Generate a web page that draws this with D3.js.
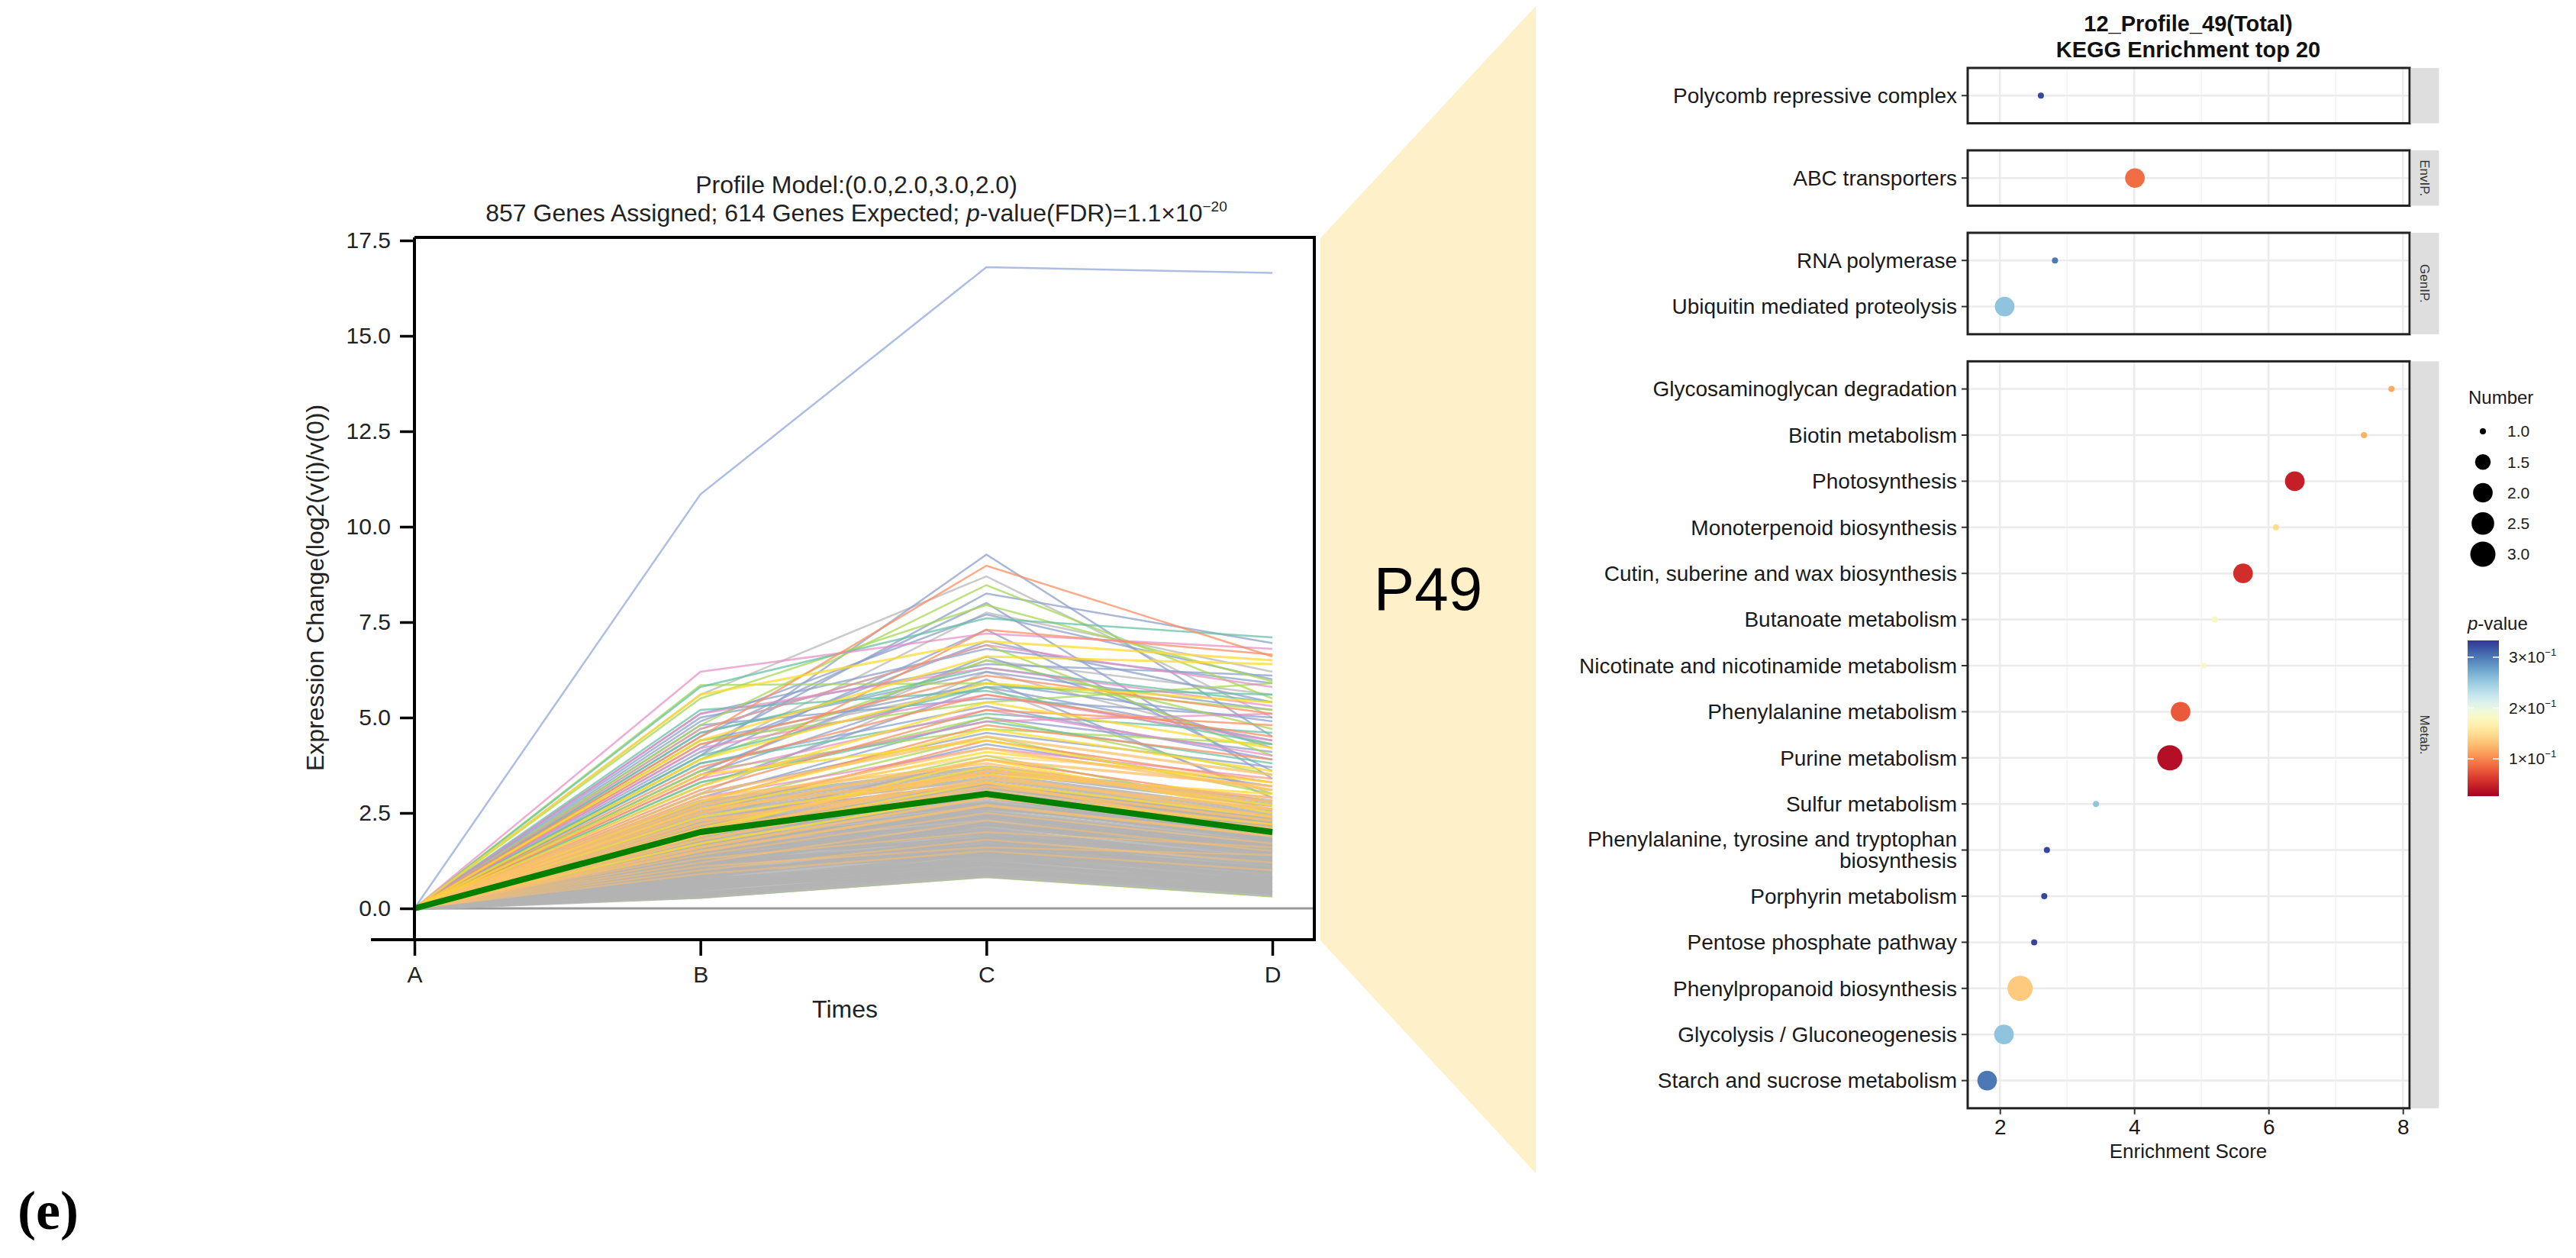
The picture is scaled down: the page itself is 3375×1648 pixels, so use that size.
<!DOCTYPE html>
<html><head><meta charset="utf-8">
<script src="https://cdn.jsdelivr.net/npm/d3@7"></script>
<style>
body{margin:0;background:#fff;}
svg{display:block;}
</style>
</head><body>
<svg id="chart" width="3375" height="1648" style="font-family:'Liberation Sans',Arial,Helvetica,sans-serif"></svg>
<script>
// ================= LEFT: STEM profile data =================
const timePoints = ["A","B","C","D"];
const yTickValues = [0,2.5,5,7.5,10,12.5,15,17.5];
const modelProfile = [0,2,3,2];
const outlierProfile = [0,10.85,16.8,16.65];
// each row = values at B, C, D (A is 0)
const profilesGray = [
 [0.30,0.85,0.35],[0.40,0.95,0.45],[0.45,1.05,0.55],[0.55,1.00,0.50],[0.50,1.15,0.65],
 [0.60,1.20,0.60],[0.65,1.30,0.75],[0.75,1.25,0.70],[0.70,1.40,0.85],[0.80,1.45,0.80],
 [0.85,1.55,0.95],[0.95,1.50,0.90],[0.90,1.65,1.05],[1.00,1.70,1.00],[1.05,1.80,1.15],
 [1.15,1.75,1.10],[1.10,1.90,1.25],[1.20,1.95,1.20],[1.25,2.05,1.35],[1.35,2.00,1.30],
 [1.30,2.15,1.45],[1.40,2.20,1.40],[1.45,2.30,1.55],[1.55,2.25,1.50],[1.50,2.40,1.65],
 [1.60,2.45,1.60],[1.65,2.55,1.75],[1.75,2.50,1.70],[1.70,2.65,1.85],[1.80,2.70,1.80],
 [1.85,2.80,1.95],[1.95,2.75,1.90],[1.90,2.90,2.05],[2.00,2.95,2.00],[2.05,3.05,2.15],
 [2.15,3.00,2.10],[2.10,3.15,2.25],[2.20,3.20,2.20],[2.30,3.30,2.35],[2.40,3.25,2.30],
 [2.50,3.40,2.45],[2.60,3.50,2.55],[2.70,3.60,2.70],[2.80,3.70,2.80],[0.35,0.90,0.40],
 [0.60,1.10,0.40],[0.50,1.35,0.70],[1.00,1.40,0.60],[0.80,1.85,1.30],[1.40,1.80,0.95],
 [0.38,1.00,0.42],[0.68,1.18,0.52],[0.92,1.60,0.78],[1.22,1.62,1.02],[1.48,2.08,1.22],
 [1.72,2.38,1.48],[0.58,1.48,0.98],[1.12,2.22,1.62],[1.58,2.62,2.08],[2.22,2.92,1.78]
];
const profilesBlue = [
 [4.0,9.27,4.5],[4.2,8.25,6.95],[4.9,7.7,6.0],[3.9,7.3,3.6],[5.1,6.8,5.9],[4.6,6.2,5.2],
 [3.6,6.6,4.2],[4.4,5.9,4.9],[3.2,5.8,4.4],[5.0,6.4,6.1],[3.8,5.3,3.9],[4.1,7.0,5.4],
 [2.9,5.0,4.1],[3.5,6.0,2.9],[4.8,5.5,5.0],[3.0,4.6,3.7],[4.5,8.0,3.4],[2.6,4.3,3.2]
];
const profilesOrange = [
 [4.5,8.98,6.6],[3.4,7.3,6.65],[4.3,6.1,5.1],[3.7,5.6,4.5],[2.8,4.8,3.9],[3.1,5.2,4.8],
 [2.5,4.4,3.3],[2.2,3.9,2.8]
];
const profilesGreen = [
 [4.8,8.47,5.5],[5.5,7.95,5.95],[4.7,6.9,4.0],[5.85,5.9,5.2],[3.9,6.5,4.7],[4.4,5.4,5.9],
 [3.3,5.0,3.5],[2.7,4.5,3.0],[2.4,4.0,2.6],[3.6,4.7,4.3],[0.28,0.82,0.31]
];
const profilesTeal = [
 [5.8,7.6,7.1],[4.6,6.3,5.4],[3.8,5.1,4.6],[5.2,5.7,4.3],[3.3,4.9,3.8],[4.0,5.8,5.6]
];
const profilesPink = [
 [6.2,7.2,6.8],[5.1,6.3,5.3],[4.2,5.6,4.4],[3.5,5.2,4.0],[4.7,6.9,5.8],[2.9,4.2,3.4],
 [3.4,4.9,5.1],[2.3,3.6,2.9]
];
const profilesSilver = [
 [5.6,8.7,5.0],[4.0,7.75,6.2],[3.6,6.5,5.6],[4.3,5.8,3.0],[3.0,6.2,4.3]
];
const profilesYellow = [
 [5.6,7.0,6.5],[4.4,6.6,6.4],[3.9,5.9,5.4],[3.2,5.4,4.2],[2.8,4.7,3.6],[3.5,4.4,3.1],
 [2.6,4.1,3.3],[2.1,3.7,2.7],[1.9,3.3,2.4],[2.4,3.5,3.0],[1.7,3.0,2.2],[2.0,3.9,2.5]
];
const profilesAmber = [
 [3.0,4.5,3.5],[2.7,4.2,3.1],[2.5,3.9,3.2],[2.2,3.6,2.9],[2.9,3.8,2.6],[2.0,3.4,2.6],
 [1.8,3.2,2.3],[2.3,3.3,2.0],[1.6,2.9,2.1],[1.5,2.7,1.9],[2.6,3.5,2.4],[1.9,3.6,2.8],
 [1.4,2.5,1.7],[1.2,2.3,1.5],[1.3,2.0,1.6],[1.0,1.8,1.2],[1.1,1.6,1.4],[0.9,1.5,1.0],
 [2.1,3.1,2.2],[2.8,4.0,3.4]
];

// ================= RIGHT: KEGG enrichment data =================
const pathwayNames = [
 "Polycomb repressive complex","ABC transporters","RNA polymerase","Ubiquitin mediated proteolysis",
 "Glycosaminoglycan degradation","Biotin metabolism","Photosynthesis","Monoterpenoid biosynthesis",
 "Cutin, suberine and wax biosynthesis","Butanoate metabolism","Nicotinate and nicotinamide metabolism",
 "Phenylalanine metabolism","Purine metabolism","Sulfur metabolism",
 "Phenylalanine, tyrosine and tryptophan\nbiosynthesis","Porphyrin metabolism","Pentose phosphate pathway",
 "Phenylpropanoid biosynthesis","Glycolysis / Gluconeogenesis","Starch and sucrose metabolism"
];
const pathwayClass = ["CP.","EnvIP.","GenIP.","GenIP.","Metab.","Metab.","Metab.","Metab.","Metab.","Metab.",
 "Metab.","Metab.","Metab.","Metab.","Metab.","Metab.","Metab.","Metab.","Metab.","Metab."];
const classOrder = ["CP.","EnvIP.","GenIP.","Metab."];
const classStripText = ["","EnvIP.","GenIP.","Metab."];
const enrichScore = [2.61,4.01,2.82,2.07,7.83,7.42,6.39,6.11,5.62,5.20,5.03,4.69,4.53,3.43,2.70,2.66,2.51,2.30,2.06,1.81];
const geneNumber  = [1,2,1,2,1,1,2,1,2,1,1,2,3,1,1,1,1,3,2,2];
const pValue      = [0.324,0.088,0.300,0.256,0.118,0.121,0.046,0.149,0.055,0.180,0.186,0.078,0.036,0.255,0.325,0.325,0.326,0.137,0.256,0.300];
const xTicksRight = [2,4,6,8];
const xMinorRight = [3,5,7];
const sizeLegendValues = [1,1.5,2,2.5,3];
const pLegendTicks = [0.1,0.2,0.3];
const pLegendMant = ["1","2","3"];
const pRange = [0.0265,0.333];

// ================= DRAW =================
const svg = d3.select("#chart");

// ---- left layout
const LP = {left:543, right:1722, top:311, bottom:1231, axisLeftExt:486};
const x = d3.scalePoint().domain(timePoints).range([543,1667]);
const y = d3.scaleLinear().domain([0,17.5]).range([1190,315]);

// yellow fan connector
const fan = [[LP.right+8,LP.top+1],[2012,8],[2012,1537],[LP.right+8,LP.bottom+1]];
svg.append("polygon").attr("points",fan.map(p=>p.join(",")).join(" ")).attr("fill","#fef0c9");

svg.append("text").attr("x",1871).attr("y",799).attr("text-anchor","middle")
  .attr("font-size",80).attr("fill","#000").text("P49");

const lineGen = d3.line().x((d,i)=>x(timePoints[i])).y(d=>y(d));
const gL = svg.append("g");

// zero line
gL.append("line").attr("x1",LP.left).attr("x2",LP.right).attr("y1",y(0)).attr("y2",y(0))
  .attr("stroke","#9a9a9a").attr("stroke-width",3);

function drawGroup(rows,color,w,op){
  gL.append("g").selectAll("path").data(rows).join("path")
    .attr("d",r=>lineGen([0].concat(r))).attr("fill","none")
    .attr("stroke",color).attr("stroke-width",w).attr("stroke-opacity",op);
}
drawGroup(profilesSilver,"#bdbdbd",2.5,0.8);
drawGroup(profilesBlue,"#8da0cb",2.5,0.75);
drawGroup(profilesGreen,"#a6d854",2.5,0.75);
drawGroup(profilesTeal,"#66c2a5",2.5,0.75);
drawGroup(profilesPink,"#e78ac3",2.5,0.7);
drawGroup(profilesOrange,"#fc8d62",2.5,0.75);
drawGroup(profilesGray,"#b3b3b3",5,0.85);
drawGroup(profilesYellow,"#ffd92f",3,0.75);
drawGroup(profilesAmber.slice(0,12),"#fdc06a",3.5,0.75);
drawGroup(profilesAmber.slice(12),"#fdc06a",2.5,0.5);
// outlier and model profile
gL.append("path").attr("d",lineGen(outlierProfile)).attr("fill","none").attr("stroke","#aebde3").attr("stroke-width",2.5);
gL.append("path").attr("d",lineGen(modelProfile)).attr("fill","none").attr("stroke","#008000").attr("stroke-width",8).attr("stroke-linejoin","round");

// frame
const fr = gL.append("g").attr("stroke","#000").attr("stroke-width",4);
fr.append("line").attr("x1",LP.left).attr("x2",LP.right+2).attr("y1",LP.top).attr("y2",LP.top);
fr.append("line").attr("x1",LP.right).attr("x2",LP.right).attr("y1",LP.top).attr("y2",LP.bottom);
fr.append("line").attr("x1",LP.left).attr("x2",LP.left).attr("y1",LP.top).attr("y2",LP.bottom);
fr.append("line").attr("x1",LP.axisLeftExt).attr("x2",LP.right+2).attr("y1",LP.bottom).attr("y2",LP.bottom);

// y axis
const yAx = gL.append("g").attr("transform",`translate(${LP.left},0)`)
  .call(d3.axisLeft(y).tickValues(yTickValues).tickFormat(d3.format(".1f")).tickSize(19).tickPadding(12));
yAx.attr("font-family",null).attr("font-size",null);
yAx.select(".domain").remove();
yAx.selectAll(".tick line").attr("stroke","#000").attr("stroke-width",3.5);
yAx.selectAll(".tick text").attr("font-size",30).attr("fill","#222");
// x axis
const xAx = gL.append("g").attr("transform",`translate(0,${LP.bottom})`)
  .call(d3.axisBottom(x).tickSize(21).tickPadding(14));
xAx.attr("font-family",null).attr("font-size",null);
xAx.select(".domain").remove();
xAx.selectAll(".tick line").attr("stroke","#000").attr("stroke-width",3.5);
xAx.selectAll(".tick text").attr("font-size",30).attr("fill","#222");

gL.append("text").attr("x",1107).attr("y",1333).attr("text-anchor","middle").attr("font-size",32).attr("fill","#222").text("Times");
gL.append("text").attr("transform","translate(424,770) rotate(-90)").attr("text-anchor","middle")
  .attr("font-size",32).attr("fill","#222").text("Expression Change(log2(v(i)/v(0))");
gL.append("text").attr("x",1122).attr("y",253).attr("text-anchor","middle").attr("font-size",32).attr("fill","#222")
  .text("Profile Model:(" + modelProfile.map(v=>v.toFixed(1)).join(",") + ")");
const t2 = gL.append("text").attr("x",1122).attr("y",290).attr("text-anchor","middle").attr("font-size",32).attr("fill","#222");
t2.append("tspan").text("857 Genes Assigned; 614 Genes Expected; ");
t2.append("tspan").attr("font-style","italic").text("p");
t2.append("tspan").text("-value(FDR)=1.1×10");
t2.append("tspan").attr("font-size",19).attr("dy",-13).text("−20");

// (e)
svg.append("text").attr("x",23).attr("y",1610).style("font-family","'Liberation Serif','Times New Roman',serif")
  .attr("font-weight","bold").attr("font-size",72).attr("fill","#000").text("(e)");

// ---- right chart
const RP = {left:2578, right:3157, top0:89, rowStep:60.4, gap:35.5, stripW:37};
const xr = d3.scaleLinear().domain([1.52,8.10]).range([RP.left,RP.right]);
const color = d3.scaleSequential(d3.interpolateRdYlBu).domain(pRange);
const sizeT = d3.scaleLinear().domain([1,3]).range([0,1]);
const diam = d3.scaleLinear().domain([0,1]).range([8,33]);
const radius = n => diam(Math.sqrt(sizeT(n)))/2;

const pad = 0.6*RP.rowStep;
let cursor = RP.top0;
const panels = classOrder.map((c,ci)=>{
  const idx = pathwayClass.map((k,i)=>k===c?i:-1).filter(i=>i>=0);
  const h = (idx.length-1)*RP.rowStep + 2*pad;
  const p = {cls:c, label:classStripText[ci], idx, top:cursor, bottom:cursor+h};
  cursor += h + RP.gap;
  return p;
});
const gR = svg.append("g");
svg.append("text").attr("x",2867).attr("y",41).attr("text-anchor","middle").attr("font-size",29).attr("font-weight","bold").attr("fill","#111").text("12_Profile_49(Total)");
svg.append("text").attr("x",2867).attr("y",75).attr("text-anchor","middle").attr("font-size",29).attr("font-weight","bold").attr("fill","#111").text("KEGG Enrichment top 20");

panels.forEach(p=>{
  const g = gR.append("g");
  g.append("rect").attr("x",RP.left).attr("y",p.top).attr("width",RP.right-RP.left).attr("height",p.bottom-p.top).attr("fill","#fff");
  g.selectAll(".mn").data(xMinorRight).join("line").attr("x1",d=>xr(d)).attr("x2",d=>xr(d)).attr("y1",p.top).attr("y2",p.bottom).attr("stroke","#f3f3f3").attr("stroke-width",1.5);
  g.selectAll(".mj").data(xTicksRight).join("line").attr("x1",d=>xr(d)).attr("x2",d=>xr(d)).attr("y1",p.top).attr("y2",p.bottom).attr("stroke","#ebebeb").attr("stroke-width",2.5);
  const rowY = j => p.top + pad + j*RP.rowStep;
  p.idx.forEach((i,j)=>{
    const yy = rowY(j);
    g.append("line").attr("x1",RP.left).attr("x2",RP.right).attr("y1",yy).attr("y2",yy).attr("stroke","#ebebeb").attr("stroke-width",2.5);
    g.append("line").attr("x1",RP.left-8).attr("x2",RP.left).attr("y1",yy).attr("y2",yy).attr("stroke","#333").attr("stroke-width",2);
    const lines = pathwayNames[i].split("\n");
    const tx = g.append("text").attr("x",RP.left-14).attr("y",yy).attr("text-anchor","end").attr("font-size",28).attr("fill","#1a1a1a");
    lines.forEach((ln,k)=>{
      tx.append("tspan").attr("x",RP.left-14).attr("y",yy + (k-(lines.length-1)/2)*28).attr("dy","0.35em").text(ln);
    });
  });
  g.selectAll("circle").data(p.idx.map((i,j)=>({i,j}))).join("circle")
    .attr("cx",d=>xr(enrichScore[d.i])).attr("cy",d=>rowY(d.j)).attr("r",d=>radius(geneNumber[d.i]))
    .attr("fill",d=>color(pValue[d.i]));
  g.append("rect").attr("x",RP.left).attr("y",p.top).attr("width",RP.right-RP.left).attr("height",p.bottom-p.top)
    .attr("fill","none").attr("stroke","#222").attr("stroke-width",3);
  g.append("rect").attr("x",RP.right+1.5).attr("y",p.top).attr("width",RP.stripW).attr("height",p.bottom-p.top).attr("fill","#dedede");
  if(p.label){
    g.append("text").attr("transform",`translate(${RP.right+1.5+RP.stripW/2},${(p.top+p.bottom)/2}) rotate(90)`)
      .attr("text-anchor","middle").attr("dy","0.35em").attr("font-size",17).attr("fill","#333").text(p.label);
  }
});
const lastP = panels[panels.length-1];
const xAxR = gR.append("g").attr("transform",`translate(0,${lastP.bottom})`)
  .call(d3.axisBottom(xr).tickValues(xTicksRight).tickFormat(d3.format("d")).tickSize(8).tickPadding(6));
xAxR.attr("font-family",null).attr("font-size",null);
xAxR.select(".domain").remove();
xAxR.selectAll(".tick line").attr("stroke","#333").attr("stroke-width",2);
xAxR.selectAll(".tick text").attr("font-size",28).attr("fill","#1a1a1a");
gR.append("text").attr("x",2867).attr("y",1517).attr("text-anchor","middle").attr("font-size",26).attr("fill","#1a1a1a").text("Enrichment Score");

// legends
const lg = svg.append("g");
lg.append("text").attr("x",3234).attr("y",529).attr("font-size",24).attr("fill","#1a1a1a").text("Number");
const sizeRowY = d3.scaleLinear().domain([1,3]).range([565,726]);
lg.selectAll(".sz").data(sizeLegendValues).join("circle").attr("cx",3253).attr("cy",d=>sizeRowY(d)).attr("r",d=>radius(d)).attr("fill","#000");
lg.selectAll(".szt").data(sizeLegendValues).join("text").attr("x",3285).attr("y",d=>sizeRowY(d)).attr("dy","0.35em")
  .attr("font-size",21).attr("fill","#1a1a1a").text(d=>d.toFixed(1));

const pt = lg.append("text").attr("x",3233).attr("y",825).attr("font-size",24).attr("fill","#1a1a1a");
pt.append("tspan").attr("font-style","italic").text("p");
pt.append("tspan").text("-value");
const cb = d3.scaleLinear().domain(pRange).range([1043,839]);
const defs = svg.append("defs");
const grad = defs.append("linearGradient").attr("id","pgrad").attr("x1",0).attr("x2",0).attr("y1",1).attr("y2",0);
d3.range(0,1.0001,0.05).forEach(t=>grad.append("stop").attr("offset",t).attr("stop-color",d3.interpolateRdYlBu(t)));
lg.append("rect").attr("x",3233).attr("y",839).attr("width",41).attr("height",204).attr("fill","url(#pgrad)");
pLegendTicks.forEach((v,k)=>{
  lg.append("line").attr("x1",3233).attr("x2",3241).attr("y1",cb(v)).attr("y2",cb(v)).attr("stroke","#fff").attr("stroke-width",1.5);
  lg.append("line").attr("x1",3266).attr("x2",3274).attr("y1",cb(v)).attr("y2",cb(v)).attr("stroke","#fff").attr("stroke-width",1.5);
  const tt = lg.append("text").attr("x",3287).attr("y",cb(v)).attr("dy","0.35em").attr("font-size",21).attr("fill","#1a1a1a");
  tt.append("tspan").text(pLegendMant[k]+"×10");
  tt.append("tspan").attr("font-size",13).attr("dy",-9).text("−1");
});
</script>
</body></html>
